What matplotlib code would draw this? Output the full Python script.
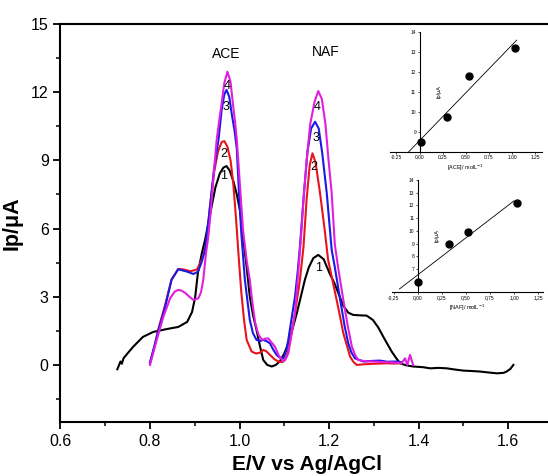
import numpy as np
import matplotlib
matplotlib.use("Agg")
import matplotlib.pyplot as plt
from matplotlib.ticker import MultipleLocator, FixedLocator, FuncFormatter

plt.rcParams['font.family'] = ['Liberation Sans', 'DejaVu Sans']

# ---- main voltammograms (E / V vs Ag/AgCl, Ip / uA) ----
x1 = [0.727, 0.734, 0.737, 0.741, 0.762, 0.784, 0.807, 0.838, 0.863, 0.883, 0.894, 0.901, 0.907, 0.916,
      0.923, 0.935, 0.946, 0.956, 0.964, 0.971, 0.978, 0.986, 0.994, 1.001, 1.008, 1.016, 1.023, 1.030,
      1.038, 1.046, 1.053, 1.062, 1.072, 1.081, 1.090, 1.100, 1.109, 1.118, 1.128, 1.137, 1.146, 1.155,
      1.165, 1.176, 1.188, 1.202, 1.212, 1.221, 1.232, 1.243, 1.254, 1.270, 1.284, 1.298, 1.310, 1.321,
      1.331, 1.340, 1.350, 1.359, 1.373, 1.388, 1.410, 1.426, 1.445, 1.463, 1.480, 1.500, 1.520, 1.537,
      1.555, 1.575, 1.590, 1.597, 1.605, 1.612]
y1 = [-0.19, 0.15, 0.05, 0.30, 0.79, 1.23, 1.45, 1.58, 1.67, 1.89, 2.33, 2.99, 4.05, 4.93,
      5.50, 6.70, 7.80, 8.43, 8.68, 8.75, 8.55, 8.10, 7.50, 6.80, 5.60, 4.30, 3.00, 2.20,
      1.54, 0.80, 0.22, 0.00, -0.07, 0.00, 0.15, 0.50, 0.95, 1.55, 2.27, 3.00, 3.74, 4.30,
      4.70, 4.84, 4.65, 4.00, 3.60, 3.15, 2.60, 2.30, 2.20, 2.18, 2.17, 1.98, 1.65, 1.25,
      0.90, 0.59, 0.30, 0.07, -0.02, -0.07, -0.10, -0.15, -0.13, -0.15, -0.20, -0.25, -0.27, -0.29,
      -0.33, -0.37, -0.35, -0.29, -0.18, 0.00]

x2 = [0.800, 0.810, 0.819, 0.834, 0.848, 0.863, 0.875, 0.890, 0.905, 0.915, 0.922, 0.927, 0.934, 0.943,
      0.952, 0.960, 0.966, 0.973, 0.980, 0.986, 0.992, 0.998, 1.004, 1.010, 1.016, 1.027, 1.037, 1.046,
      1.053, 1.060, 1.068, 1.078, 1.087, 1.095, 1.102, 1.108, 1.113, 1.124, 1.135, 1.143, 1.150, 1.157,
      1.163, 1.170, 1.180, 1.190, 1.198, 1.208, 1.217, 1.225, 1.232, 1.240, 1.247, 1.255, 1.262, 1.280,
      1.300, 1.329, 1.345, 1.359]
y2 = [0.10, 0.80, 1.60, 2.65, 3.75, 4.22, 4.20, 4.12, 4.20, 4.60, 5.00, 5.50, 6.96, 8.45,
      9.40, 9.80, 9.85, 9.60, 9.00, 8.00, 6.50, 4.80, 3.20, 2.00, 1.10, 0.59, 0.50, 0.54,
      0.66, 0.60, 0.44, 0.25, 0.15, 0.12, 0.22, 0.55, 1.10, 2.27, 3.74, 5.20, 7.30, 8.80,
      9.31, 8.90, 7.55, 6.00, 4.62, 3.70, 2.86, 2.10, 1.39, 0.85, 0.37, 0.12, 0.00, 0.03,
      0.05, 0.07, 0.06, 0.07]

x3 = [0.800, 0.810, 0.819, 0.834, 0.848, 0.863, 0.874, 0.882, 0.897, 0.907, 0.915, 0.923, 0.932, 0.943,
      0.953, 0.960, 0.966, 0.971, 0.977, 0.983, 0.989, 0.994, 0.999, 1.004, 1.012, 1.023, 1.030, 1.038,
      1.046, 1.053, 1.060, 1.068, 1.076, 1.083, 1.090, 1.098, 1.104, 1.109, 1.116, 1.124, 1.130, 1.135,
      1.144, 1.152, 1.160, 1.169, 1.177, 1.185, 1.195, 1.206, 1.213, 1.225, 1.235, 1.243, 1.250, 1.258,
      1.277, 1.300, 1.314, 1.330, 1.351, 1.362]
y3 = [0.10, 0.85, 1.54, 2.57, 3.74, 4.21, 4.15, 4.11, 4.00, 4.10, 4.50, 5.06, 6.60, 8.60,
      9.90, 11.20, 11.90, 12.10, 11.80, 11.00, 10.30, 9.50, 7.50, 5.80, 3.74, 1.98, 1.40, 1.10,
      1.05, 1.10, 1.05, 0.95, 0.65, 0.44, 0.32, 0.29, 0.60, 1.10, 2.00, 3.00, 4.10, 5.20,
      7.55, 9.40, 10.40, 10.70, 10.40, 9.30, 7.55, 5.06, 4.30, 2.86, 1.70, 0.95, 0.55, 0.29,
      0.15, 0.18, 0.19, 0.14, 0.15, 0.12]

x4 = [0.800, 0.815, 0.830, 0.845, 0.855, 0.863, 0.870, 0.878, 0.888, 0.897, 0.908, 0.914, 0.919, 0.925,
      0.930, 0.936, 0.942, 0.949, 0.955, 0.959, 0.966, 0.973, 0.980, 0.986, 0.990, 0.994, 1.001, 1.008,
      1.016, 1.023, 1.029, 1.035, 1.042, 1.050, 1.057, 1.064, 1.071, 1.079, 1.088, 1.098, 1.104, 1.109,
      1.116, 1.124, 1.131, 1.137, 1.143, 1.150, 1.158, 1.168, 1.176, 1.184, 1.192, 1.199, 1.206, 1.213,
      1.221, 1.232, 1.242, 1.251, 1.258, 1.265, 1.280, 1.299, 1.325, 1.351, 1.362, 1.370, 1.375, 1.381,
      1.388]
y4 = [0.00, 1.10, 2.13, 2.93, 3.22, 3.30, 3.27, 3.18, 3.00, 2.86, 2.93, 3.20, 3.74, 4.90,
      5.60, 6.80, 8.30, 9.90, 10.80, 11.36, 12.40, 12.90, 12.45, 11.36, 10.70, 9.90, 7.90, 5.90,
      4.60, 3.74, 2.70, 1.85, 1.35, 1.10, 1.15, 1.17, 1.00, 0.81, 0.40, 0.15, 0.30, 0.51,
      1.30, 2.27, 4.00, 5.50, 7.30, 9.00, 10.60, 11.60, 12.05, 11.70, 10.60, 9.00, 7.55, 5.30,
      4.20, 2.86, 1.70, 0.81, 0.45, 0.22, 0.16, 0.15, 0.12, 0.10, 0.07, 0.29, 0.00, 0.44,
      0.00]

# ---- calibration insets ----
ace_conc = [0.02, 0.30, 0.53, 1.03]
ace_ip = [8.5, 9.75, 11.8, 13.2]
naf_conc = [0.0, 0.32, 0.52, 1.03]
naf_ip = [6.0, 8.95, 9.9, 12.2]

ace_fit_x = [-0.13, 1.05]
naf_fit_x = [-0.19, 1.0]

labels_ace = [("1", 0.964, 8.3), ("2", 0.964, 9.27), ("3", 0.970, 11.36), ("4", 0.972, 12.27)]
labels_naf = [("1", 1.176, 4.28), ("2", 1.165, 8.72), ("3", 1.172, 9.97), ("4", 1.174, 11.36)]

fig = plt.figure(figsize=(5.48, 4.76), dpi=100)
ax = fig.add_axes([0.1104, 0.114, 1.0087 - 0.1104, 0.9496 - 0.114])

ax.plot(x1, y1, color='black', lw=1.5)
ax.plot(x2, y2, color='#e8141c', lw=1.5)
ax.plot(x3, y3, color='#1a1ae6', lw=1.5)
ax.plot(x4, y4, color='#e01ee0', lw=1.5)

ax.set_xlim(0.6, 1.7)
ax.set_ylim(-2.5, 15)
ax.xaxis.set_major_locator(MultipleLocator(0.2))
ax.xaxis.set_minor_locator(MultipleLocator(0.1))
ax.yaxis.set_major_locator(MultipleLocator(3))
ax.yaxis.set_minor_locator(MultipleLocator(1.5))
ax.xaxis.set_major_formatter(FuncFormatter(lambda v, p: f"{v:.1f}"))
ax.yaxis.set_major_formatter(FuncFormatter(lambda v, p: f"{v:.0f}"))
ax.tick_params(which='major', direction='out', length=5, width=1.3, labelsize=11.5)
ax.tick_params(which='minor', direction='out', length=3, width=1.1)
for s in ax.spines.values():
    s.set_linewidth(1.5)
ax.set_xlabel("E/V vs Ag/AgCl", fontsize=15, fontweight='bold', labelpad=5)
ax.set_ylabel("Ip/\u03bcA", fontsize=15.5, fontweight='bold', labelpad=6)

ax.text(0.971, 13.7, "ACE", fontsize=10, ha='center', va='center')
ax.text(1.193, 13.78, "NAF", fontsize=10, ha='center', va='center')
for t, xx, yy in labels_ace + labels_naf:
    ax.text(xx, yy, t, fontsize=9, ha='center', va='center')


def make_inset(rect, xs, ys, fit_x, xlim, ylim, yticks, xlabel, sep):
    ia = fig.add_axes(rect)
    ia.patch.set_alpha(0)
    ia.plot(xs, ys, 'o', color='black', ms=5)
    k, b = np.polyfit(xs, ys, 1)
    fx = np.array(fit_x)
    ia.plot(fx, k * fx + b, color='black', lw=0.6)
    ia.set_xlim(*xlim)
    ia.set_ylim(*ylim)
    ia.spines['top'].set_visible(False)
    ia.spines['right'].set_visible(False)
    ia.spines['left'].set_position(('data', 0))
    for s in ('left', 'bottom'):
        ia.spines[s].set_linewidth(0.8)
    ia.xaxis.set_major_locator(FixedLocator([-0.25, 0.0, 0.25, 0.5, 0.75, 1.0, 1.25]))
    ia.yaxis.set_major_locator(FixedLocator(yticks))
    ia.xaxis.set_major_formatter(FuncFormatter(lambda v, p: f"{v:.2f}".replace('.', sep)))
    ia.tick_params(direction='out', length=1.5, width=0.5, labelsize=3.5, pad=1)
    ia.set_xlabel(xlabel, fontsize=4, labelpad=1.5)
    ia.set_ylabel("Ip/\u03bcA", fontsize=4, labelpad=-22)
    return ia


make_inset([0.7117, 0.6807, 0.2768, 0.2527], ace_conc, ace_ip, ace_fit_x,
           (-0.32, 1.32), (8, 14), list(range(9, 15)), "[ACE]/ molL$^{-1}$", '.')
make_inset([0.7148, 0.3866, 0.276, 0.2353], naf_conc, naf_ip, naf_fit_x,
           (-0.27, 1.30), (5.2, 14), list(range(7, 15)), "[NAF]/ molL$^{-1}$", ',')

fig.savefig("out.png", dpi=100)
